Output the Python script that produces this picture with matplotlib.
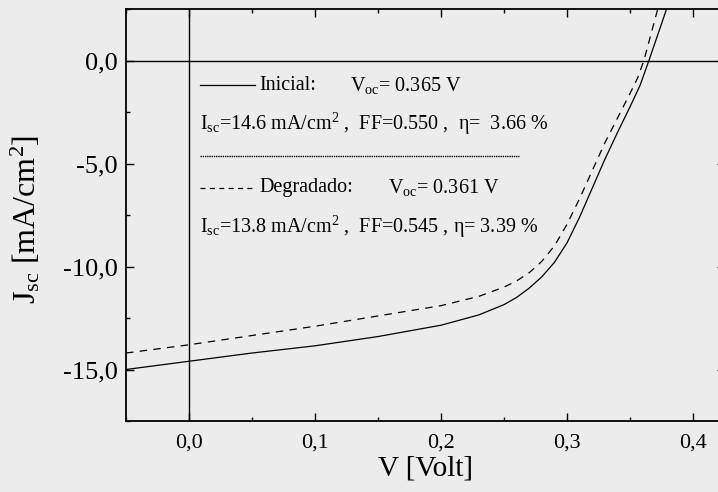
import numpy
import matplotlib
matplotlib.use('Agg')
import matplotlib.pyplot as plt
from matplotlib.ticker import MultipleLocator, FuncFormatter
from matplotlib.lines import Line2D

# curve values (V in volt, J in mA/cm2)
v_inicial = [-0.05, 0.0, 0.05, 0.10, 0.15, 0.20, 0.23, 0.25, 0.26, 0.27, 0.28,
             0.29, 0.30, 0.31, 0.32, 0.33, 0.34, 0.35, 0.358, 0.365, 0.379]
j_inicial = [-15.0, -14.6, -14.2, -13.85, -13.4, -12.85, -12.35, -11.85, -11.5, -11.05, -10.5,
             -9.8, -8.85, -7.6, -6.2, -4.8, -3.5, -2.25, -1.2, 0.0, 2.5]

v_degradado = [-0.05, 0.0, 0.05, 0.10, 0.15, 0.20, 0.23, 0.25, 0.26, 0.27, 0.28,
               0.29, 0.30, 0.31, 0.32, 0.33, 0.34, 0.35, 0.356, 0.361, 0.372]
j_degradado = [-14.2, -13.8, -13.35, -12.9, -12.4, -11.9, -11.45, -11.0, -10.7, -10.3, -9.75,
               -9.0, -7.95, -6.7, -5.35, -4.0, -2.8, -1.6, -0.85, 0.0, 2.5]

texto_inicial = [r"Inicial:", r"V$_{\mathrm{oc}}$= 0.365 V",
                 r"I$_{\mathrm{sc}}$=14.6 mA/cm$^{2}$ ,  FF=0.550 ,  η=  3.66 %"]
texto_degradado = [r"Degradado:", r"V$_{\mathrm{oc}}$= 0.361 V",
                   r"I$_{\mathrm{sc}}$=13.8 mA/cm$^{2}$ ,  FF=0.545 , η= 3.39 %"]


def coma(val, pos):
    return ('%.1f' % val).replace('.', ',')


def main():
    plt.rcParams['font.family'] = ['Liberation Serif', 'DejaVu Serif']
    plt.rcParams['mathtext.fontset'] = 'custom'
    plt.rcParams['mathtext.rm'] = 'Liberation Serif'
    plt.rcParams['mathtext.it'] = 'Liberation Serif:italic'

    fondo = '#ececec'
    fig = plt.figure(figsize=(7.18, 4.92), dpi=100, facecolor=fondo)
    ax = fig.add_axes([0.1755, 0.1443, 0.8336, 0.8374], facecolor=fondo)

    ax.plot(v_inicial, j_inicial, '-k', linewidth=0.9)
    ax.plot(v_degradado, j_degradado, color='k', linewidth=0.9, linestyle=(0, (6, 5)))
    ax.axhline(0, color='k', linewidth=1.0)
    ax.axvline(0, color='k', linewidth=1.0)

    ax.set_xlim(-0.05, 0.425)
    ax.set_ylim(-17.5, 2.5)
    ax.xaxis.set_major_locator(MultipleLocator(0.1))
    ax.xaxis.set_minor_locator(MultipleLocator(0.05))
    ax.yaxis.set_major_locator(MultipleLocator(5))
    ax.yaxis.set_minor_locator(MultipleLocator(2.5))
    ax.xaxis.set_major_formatter(FuncFormatter(coma))
    ax.yaxis.set_major_formatter(FuncFormatter(coma))
    ax.tick_params(which='both', direction='in', top=True, right=True, width=1.0)
    ax.tick_params(which='major', length=6)
    ax.tick_params(which='minor', length=3)
    ax.tick_params(axis='x', labelsize=16, pad=9)
    ax.tick_params(axis='y', labelsize=19, pad=6)
    for s in ax.spines.values():
        s.set_linewidth(1.3)

    ax.set_xlabel('V [Volt]', fontsize=21, labelpad=2)
    ax.set_ylabel(r'J$_{\mathrm{sc}}$ [mA/cm$^{2}$]', fontsize=23)
    ax.yaxis.set_label_coords(-0.139, 0.49)

    # texto de la leyenda
    fs = 14.5
    ax.add_line(Line2D([0.009, 0.052], [-1.21, -1.21], color='k', linewidth=0.9))
    ax.text(0.056, -1.21, texto_inicial[0], fontsize=fs, va='center')
    ax.text(0.128, -1.21, texto_inicial[1], fontsize=fs, va='center')
    ax.text(0.009, -3.06, texto_inicial[2], fontsize=fs, va='center')
    ax.add_line(Line2D([0.009, 0.262], [-4.66, -4.66], color='k', linewidth=1.0,
                       linestyle=(0, (1, 0.6))))
    ax.add_line(Line2D([0.009, 0.052], [-6.17, -6.17], color='k', linewidth=0.9,
                       linestyle=(0, (4, 3.5))))
    ax.text(0.056, -6.17, texto_degradado[0], fontsize=fs, va='center')
    ax.text(0.158, -6.17, texto_degradado[1], fontsize=fs, va='center')
    ax.text(0.009, -8.1, texto_degradado[2], fontsize=fs, va='center')

    fig.savefig('out.png', dpi=100, facecolor=fondo)


if __name__ == "__main__":
    main()
